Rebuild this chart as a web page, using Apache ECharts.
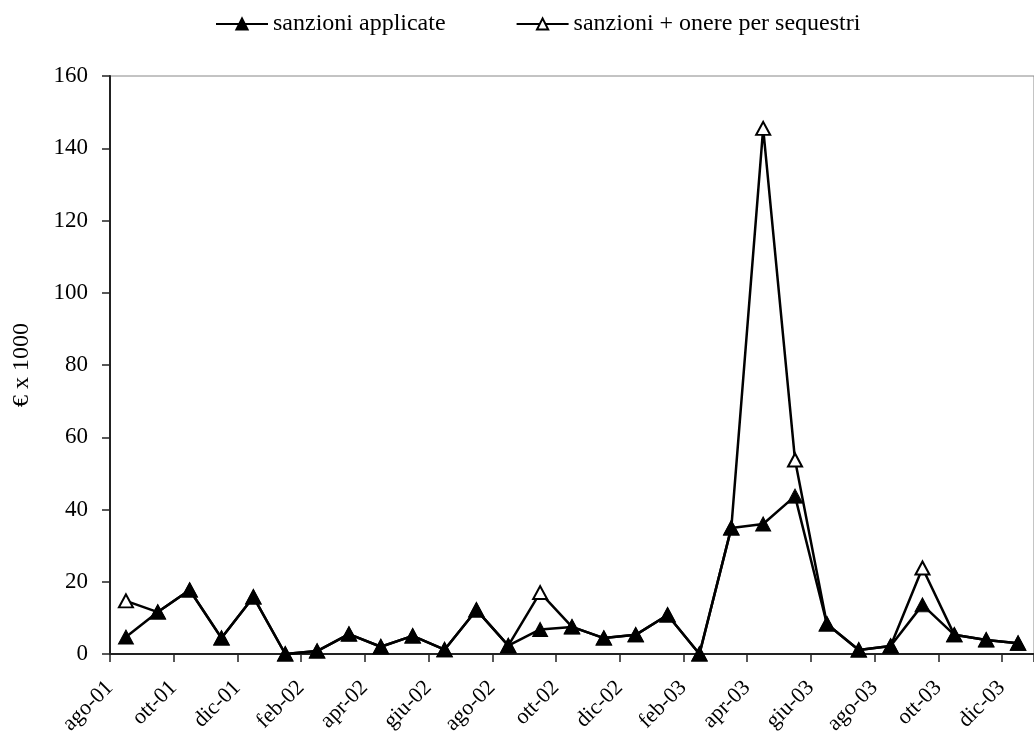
<!DOCTYPE html>
<html>
<head>
<meta charset="utf-8">
<script src="https://cdn.jsdelivr.net/npm/echarts@6/dist/echarts.min.js"></script>
<style>html,body{margin:0;padding:0;background:#fff}#c{width:1034px;height:747px}</style>
</head>
<body>
<div id="c"></div>
<script>
const categories = ['ago-01','set-01','ott-01','nov-01','dic-01','gen-02','feb-02','mar-02','apr-02','mag-02','giu-02','lug-02','ago-02','set-02','ott-02','nov-02','dic-02','gen-03','feb-03','mar-03','apr-03','mag-03','giu-03','lug-03','ago-03','set-03','ott-03','nov-03','dic-03'];
const sanzioniApplicate = [4.7, 11.6, 17.7, 4.4, 15.8, 0, 0.8, 5.5, 2, 5, 1.2, 12.2, 2.3, 6.8, 7.5, 4.4, 5.3, 10.8, 0, 34.9, 36, 43.7, 8.3, 1.1, 2.2, 13.6, 5.3, 3.9, 3];
const sanzioniOnere = [14.7, 11.6, 17.7, 4.4, 15.8, 0, 0.8, 5.5, 2, 5, 1.2, 12.2, 2.3, 17, 7.5, 4.4, 5.3, 10.8, 0, 34.9, 145.5, 53.7, 8.3, 1.1, 2.2, 23.8, 5.3, 3.9, 3];
const yTicks = {min: 0, max: 160, interval: 20};

const font = 'Liberation Serif';
const chart = echarts.init(document.getElementById('c'), null, {renderer: 'canvas'});
chart.setOption({
  animation: false,
  backgroundColor: '#fff',
  textStyle: {fontFamily: font},
  legend: {
    top: 7, left: 210, itemWidth: 52, itemHeight: 14, itemGap: 70,
    textStyle: {fontFamily: font, fontSize: 24, color: '#000'},
    data: ['sanzioni applicate', 'sanzioni + onere per sequestri']
  },
  grid: {left: 110, top: 76, bottom: 93, right: -4, show: true, borderColor: '#888', borderWidth: 1, containLabel: false},
  xAxis: {
    type: 'category', data: categories, boundaryGap: true,
    axisLine: {lineStyle: {color: '#222', width: 2}},
    axisTick: {show: true, interval: 1, length: 8, lineStyle: {color: '#222', width: 1.5}},
    axisLabel: {interval: 1, rotate: 45, fontFamily: font, fontSize: 22, color: '#000', margin: 14, padding: [0, 23, 0, 0]}
  },
  yAxis: {
    type: 'value', min: yTicks.min, max: yTicks.max, interval: yTicks.interval,
    name: '€ x 1000', nameLocation: 'middle', nameGap: 76, nameRotate: 90,
    nameTextStyle: {fontFamily: font, fontSize: 24, color: '#000'},
    axisLine: {show: true, lineStyle: {color: '#222', width: 2}},
    axisTick: {show: true, length: 8, lineStyle: {color: '#222', width: 1.5}},
    splitLine: {show: false},
    axisLabel: {fontFamily: font, fontSize: 23, color: '#000', margin: 22}
  },
  series: [
    {
      name: 'sanzioni applicate', type: 'line', data: sanzioniApplicate, z: 4,
      symbol: 'triangle', symbolSize: [15, 14], showAllSymbol: true,
      lineStyle: {color: '#000', width: 2.5},
      itemStyle: {color: '#000', borderColor: '#000', borderWidth: 1}
    },
    {
      name: 'sanzioni + onere per sequestri', type: 'line', data: sanzioniOnere, z: 3,
      symbol: 'triangle', symbolSize: [14, 13], showAllSymbol: true,
      lineStyle: {color: '#000', width: 2.5},
      itemStyle: {color: '#fff', borderColor: '#000', borderWidth: 2}
    }
  ]
});
</script>
</body>
</html>
